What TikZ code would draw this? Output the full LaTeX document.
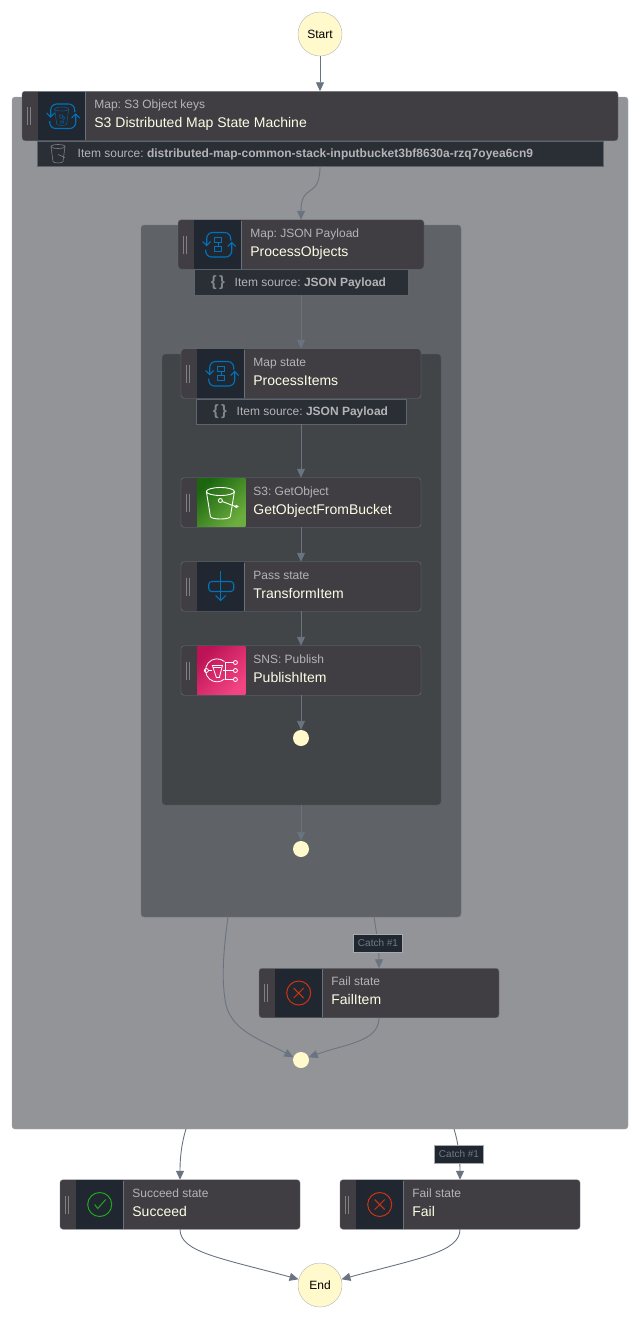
\documentclass[tikz,border=0pt]{standalone}
\usepackage{fontspec}
\setmainfont{Liberation Sans}
\frenchspacing
\usetikzlibrary{arrows.meta,positioning,calc}

\definecolor{outerfill}{HTML}{939497}
\definecolor{midfill}{HTML}{5F6266}
\definecolor{innerfill}{HTML}{424548}
\definecolor{boxfill}{HTML}{413E43}
\definecolor{boxline}{HTML}{6A737C}
\definecolor{iconfill}{HTML}{212730}
\definecolor{barfill}{HTML}{2A2E35}
\definecolor{wirecol}{HTML}{697480}
\definecolor{kindcol}{HTML}{B4B4B6}
\definecolor{namecol}{HTML}{FFFDE6}
\definecolor{endfill}{HTML}{FFF9CC}
\definecolor{mapblue}{HTML}{0073BB}
\definecolor{failred}{HTML}{D13212}
\definecolor{okgreen}{HTML}{1FA81F}
\definecolor{s3dark}{HTML}{1B660F}
\definecolor{s3light}{HTML}{6CAE3E}
\definecolor{snsdark}{HTML}{BC1356}
\definecolor{snslight}{HTML}{F34482}

\newcommand{\fsize}[1]{\fontsize{#1}{#1}\selectfont}

% box, handle, icon square and the two lines of text
\newcommand{\statebox}[7]{
  \node[statestyle,minimum width=#4pt] (#1) at (#2,#3) {};
  \draw[handleline] ([xshift=5.5pt,yshift=9pt]#1.west) -- ([xshift=5.5pt,yshift=-9pt]#1.west);
  \draw[handleline] ([xshift=8.5pt,yshift=9pt]#1.west) -- ([xshift=8.5pt,yshift=-9pt]#1.west);
  \draw[iconedge] ([xshift=16pt,yshift=24pt]#1.west) -- ([xshift=16pt,yshift=-24pt]#1.west);
  \draw[iconedge] ([xshift=63.5pt,yshift=24pt]#1.west) -- ([xshift=63.5pt,yshift=-24pt]#1.west);
  \node[#5,right=16.4pt of #1.west] (#1icon) {};
  \node[kindstyle] (#1kind) at ([xshift=72.2pt,yshift=7.5pt]#1.west) {#6};
  \node[namestyle] (#1name) at ([xshift=72.2pt,yshift=-11.5pt]#1.west) {#7};
}
\newcommand{\itembar}[5]{
  \node[barstyle,minimum width=#4pt] (#1) at (#2,#3) {};
  \node[bartext] (#1text) at ([xshift=40.5pt,yshift=-4pt]#1.west) {Item source: \textbf{#5}};
}
\newcommand{\braceicon}[1]{
  \node[text=wirecol!85!white,font=\fsize{15}\bfseries] (#1brace) at ([xshift=24pt,yshift=-0.5pt]#1.west) {\{\,\}};
}
\newcommand{\bucketshape}[1]{
  \draw[#1] (-7,-7) -- (-5,8) arc[start angle=180,end angle=360,x radius=5pt,y radius=1.5pt] -- (7,-7);
  \draw[#1] (0,-7) ellipse[x radius=7pt,y radius=2pt];
}
\newcommand{\maparrows}[1]{
  \begin{scope}[shift={(#1icon.center)},draw=mapblue,line width=1.1pt]
    \draw[rounded corners=6pt] (13,-4) -- (13,-12) -- (-11,-12) -- (-11,1);
    \draw (-15,-3) -- (-11,1) -- (-7,-3);
    \draw[rounded corners=6pt] (-12,5) -- (-12,12.5) -- (14,12.5) -- (14,-2);
    \draw (10,2) -- (14,-2) -- (18,2);
  \end{scope}
}
\newcommand{\flowmark}[1]{
  \begin{scope}[shift={(#1icon.center)},draw=mapblue,line width=1.1pt]
    \draw (-3,-7) rectangle (4,-2);
    \draw (-3,2) rectangle (4,7);
    \draw (0.5,-2) -- (0.5,2);
  \end{scope}
}
\newcommand{\failicon}[1]{
  \begin{scope}[shift={(#1icon.center)},draw=failred,line width=1pt]
    \draw (0,0) circle[radius=12pt];
    \draw (-5,-5) -- (5,5) (-5,5) -- (5,-5);
  \end{scope}
}

\begin{document}
\begin{tikzpicture}[x=1pt,y=-1pt,>={Triangle[width=8pt,length=9pt]},
    wire/.style={->,draw=wirecol,line width=0.9pt},
    groupstyle/.style={draw=#1!85!white,fill=#1,rounded corners=3pt,inner sep=0pt,outer sep=0pt},
    statestyle/.style={draw=boxline,fill=boxfill,rounded corners=3pt,minimum height=49.5pt,inner sep=0pt,outer sep=0pt},
    handleline/.style={draw=kindcol!55!boxfill,line width=0.8pt},
    iconedge/.style={draw=boxline,line width=0.5pt},
    darkicon/.style={fill=iconfill,minimum width=46.6pt,minimum height=48.5pt,inner sep=0pt,outer sep=0pt},
    s3icon/.style={left color=s3dark,right color=s3light,shading angle=45,minimum width=48pt,minimum height=48.5pt,inner sep=0pt,outer sep=0pt},
    snsicon/.style={left color=snsdark,right color=snslight,shading angle=45,minimum width=48pt,minimum height=48.5pt,inner sep=0pt,outer sep=0pt},
    kindstyle/.style={anchor=base west,inner sep=0pt,text=kindcol,font=\fsize{12}},
    namestyle/.style={anchor=base west,inner sep=0pt,text=namecol,font=\fsize{14}},
    barstyle/.style={draw=boxline!80!barfill,fill=barfill,minimum height=25.5pt,inner sep=0pt,outer sep=0pt},
    bartext/.style={anchor=base west,inner sep=0pt,text=kindcol,font=\fsize{12}},
    catchstyle/.style={draw=boxline!60!white,fill=iconfill,text=wirecol!95!white,font=\fsize{10},minimum width=49pt,minimum height=18pt,inner sep=0pt},
    endstyle/.style={circle,draw=kindcol,fill=endfill,minimum size=44pt,inner sep=0pt,text=black,font=\fsize{12}},
    dotstyle/.style={circle,fill=endfill,minimum size=16pt,inner sep=0pt}]
  \useasboundingbox (0,0) rectangle (640,1320);

  % nested map areas
  \node[groupstyle=outerfill,minimum width=616pt,minimum height=1032pt] (outergroup) at (320,613) {};
  \node[groupstyle=midfill,minimum width=320pt,minimum height=692pt] (objectsgroup) at (301,571) {};
  \node[groupstyle=innerfill,minimum width=279pt,minimum height=451pt] (itemsgroup) at (301.5,579.5) {};

  \node[endstyle] (startnode) at (320,34) {Start};
  \node[endstyle] (endnode) at (320,1285) {End};
  \node[dotstyle] (itemsdot) at (301,738) {};
  \node[dotstyle] (objectsdot) at (301,849) {};
  \node[dotstyle] (mergedot) at (301,1060) {};

  \itembar{s3bar}{320}{153.5}{566}{distributed-map-common-stack-inputbucket3bf8630a-rzq7oyea6cn9}
  \statebox{s3map}{320}{116}{596}{darkicon}{Map: S3 Object keys}{S3 Distributed Map State Machine}
  \itembar{objectsbar}{301}{282}{214}{JSON Payload}
  \statebox{objects}{301}{244.5}{246}{darkicon}{Map: JSON Payload}{ProcessObjects}
  \itembar{itemsbar}{301}{411.5}{210}{JSON Payload}
  \statebox{items}{301}{373.5}{240}{darkicon}{Map state}{ProcessItems}
  \statebox{getobject}{301}{502.5}{240}{s3icon}{S3: GetObject}{GetObjectFromBucket}
  \statebox{transform}{301}{586.5}{240}{darkicon}{Pass state}{TransformItem}
  \statebox{publish}{301}{670.5}{240}{snsicon}{SNS: Publish}{PublishItem}
  \statebox{failitem}{379}{993}{240}{darkicon}{Fail state}{FailItem}
  \statebox{succeed}{180}{1204.5}{240}{darkicon}{Succeed state}{Succeed}
  \statebox{fail}{460}{1204.5}{240}{darkicon}{Fail state}{Fail}

  % icons
  \maparrows{s3map}
  \begin{scope}[shift={(s3mapicon.center)},line width=0.6pt]
    \bucketshape{draw=mapblue!65!iconfill}
    \draw[mapblue!65!iconfill] (-2,-1) rectangle (1,2) (2,2) circle[radius=1.5pt] (-1,5) rectangle (2,7);
  \end{scope}
  \maparrows{objects}
  \flowmark{objects}
  \maparrows{items}
  \flowmark{items}
  \begin{scope}[shift={(s3bar.west)},xshift=21pt,line width=0.6pt]
    \bucketshape{draw=kindcol!60!barfill}
    \draw[kindcol!60!barfill] (0,1) -- (7,4);
  \end{scope}
  \braceicon{objectsbar}
  \braceicon{itemsbar}
  \begin{scope}[shift={(getobjecticon.center)},draw=white,line width=0.9pt]
    \draw (-15,-11) -- (-11,14) arc[start angle=180,end angle=360,x radius=10pt,y radius=2.5pt] -- (13,-11);
    \draw (-1,-11) ellipse[x radius=14pt,y radius=4pt];
    \draw (-1,-2) circle[radius=2pt];
    \draw (1,-1) -- (14,4);
    \draw (15,4) ellipse[x radius=1.5pt,y radius=1pt];
  \end{scope}
  \begin{scope}[shift={(transformicon.center)},draw=mapblue,line width=1.1pt]
    \draw[rounded corners=3pt] (-12,-5) rectangle (13,5);
    \draw (0,-16) -- (0,14);
    \draw (-5,9) -- (0,14) -- (5,9);
  \end{scope}
  \begin{scope}[shift={(publishicon.center)},draw=white,line width=0.8pt]
    \draw (3,-9) arc[start angle=50,end angle=310,radius=11.5pt];
    \draw (-15,0) circle[radius=2pt] (14,-8) circle[radius=2pt] (14,0) circle[radius=2pt] (14,9) circle[radius=2pt];
    \draw (-13,0) -- (-9,0);
    \draw (-9,-5) -- (1,-5) -- (-2,7) -- (-5,7) -- cycle;
    \draw (-8,-3) -- (0,-3);
    \draw (2,0) -- (12,0) (4,-8) -- (12,-8) (4,9) -- (12,9) (4,-8) -- (4,9);
  \end{scope}
  \failicon{failitem}
  \failicon{fail}
  \begin{scope}[shift={(succeedicon.center)},draw=okgreen,line width=1pt]
    \draw (0,0) circle[radius=12pt];
    \draw (-5,0) -- (-2,4) -- (6,-5);
  \end{scope}

  % where the wires leave the map areas
  \coordinate (objectsleft) at (228,917);
  \coordinate (objectsright) at (374,917);
  \coordinate (outerleft) at (186,1129);
  \coordinate (outerright) at (454,1129);

  \draw[wire] (startnode) -- (startnode |- s3map.north);
  \draw[wire] (s3bar.south) .. controls (320,200) and (301,182) .. (objects.north);
  \draw[wire] (objectsbar.south) -- (items.north);
  \draw[wire] (itemsbar.south) -- (getobject.north);
  \draw[wire] (getobject) -- (transform);
  \draw[wire] (transform) -- (publish);
  \draw[wire] (publish) -- (itemsdot);
  \draw[wire] (itemsgroup.south -| objectsdot) -- (objectsdot);
  \draw[wire] (objectsleft) .. controls (222,960) and (222,985) .. (226,1005) .. controls (233,1032) and (262,1040) .. (mergedot.160);
  \draw[wire] (objectsright) .. controls (377,935) and (379,950) .. (failitem.north);
  \draw[wire] (failitem.south) .. controls (379,1042) and (345,1044) .. (mergedot.20);
  \draw[wire] (outerleft) .. controls (181,1145) and (180,1160) .. (succeed.north);
  \draw[wire] (outerright) .. controls (459,1145) and (460,1160) .. (fail.north);
  \draw[wire] (succeed.south) .. controls (180,1252) and (220,1258) .. (endnode.165);
  \draw[wire] (fail.south) .. controls (460,1252) and (420,1258) .. (endnode.15);

  \node[catchstyle] (catchitem) at (378,943) {Catch \#1};
  \node[catchstyle] (catchfail) at (459,1154) {Catch \#1};
\end{tikzpicture}
\end{document}
